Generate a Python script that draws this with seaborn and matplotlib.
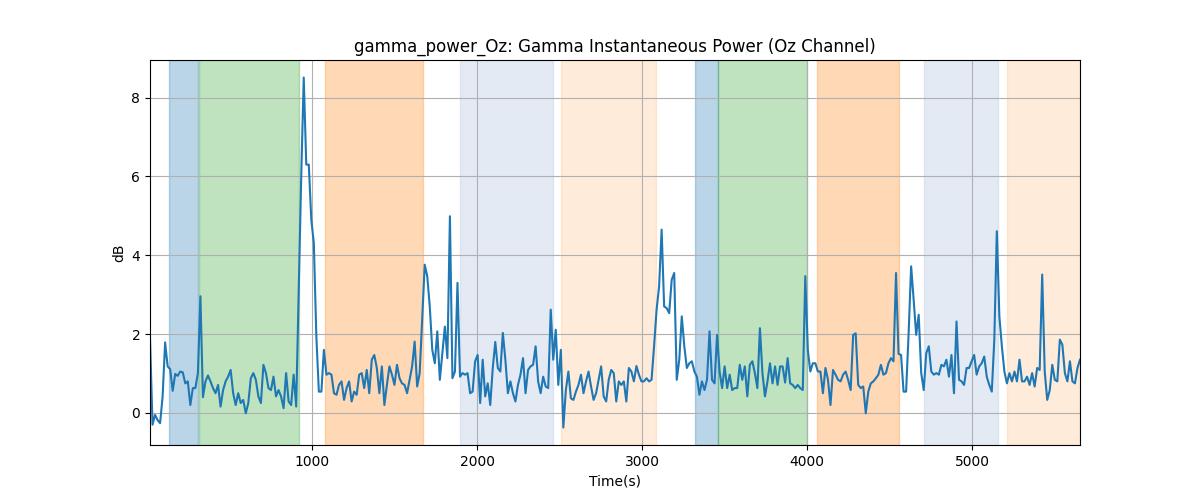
import numpy as np
import pandas as pd
import matplotlib
matplotlib.use("Agg")
import matplotlib.pyplot as plt
import seaborn as sns

t_start, t_end = 16, 5655

power_db = [
    # 16 .. ~716
    1.9, -0.3, -0.05, -0.18, -0.26, 0.41, 1.79, 1.18, 1.11, 0.56, 0.99, 0.94, 1.05, 1.03,
    0.75, 0.80, 0.2, 0.63, 0.63, 1.01, 2.96, 0.4, 0.8, 0.95, 0.8, 0.63, 0.5, 0.71, 0.16,
    0.58, 0.8, 0.92, 1.09, 0.5, 0.2, 0.5, 0.25, 0.33, -0.01, 0.25, 0.88, 1.01, 0.84, 0.42,
    0.25, 1.22,
    # zoom 6
    1.01, 0.63, 0.58, 0.92, 0.42, 0.58, 0.42, 0.12, 1.01, 0.29, 0.2, 0.97, 0.16, 3.07,
    6.0, 8.51, 6.3, 6.3, 4.9, 4.31, 1.94, 0.54, 0.54, 1.6, 0.97, 1.01, 0.97, 0.5, 0.46,
    0.71, 0.8, 0.33, 0.63, 0.8, 0.29, 0.54, 0.46, 0.97, 1.01, 0.63, 1.09, 0.5, 1.35, 1.47,
    1.14, 0.5,
    # zoom 7
    1.18, 0.2, 0.71, 1.18, 0.97, 0.71, 1.22, 0.88, 0.75, 0.71, 0.5, 0.84, 1.18, 1.81,
    0.67, 1.01, 2.36, 3.76, 3.47, 2.7, 1.6, 1.26, 2.07, 0.84, 1.52, 2.19, 1.39, 4.99, 0.88,
    1.05, 3.3, 0.92, 1.01, 0.97, 1.01, 0.5, 0.54, 1.31, 1.47, 0.25, 1.35, 0.42, 0.75, 0.2,
    1.14, 1.8,
    # zoom 8
    1.14, 1.05, 2.03, 1.35, 0.5, 0.8, 0.5, 0.29, 0.71, 0.97, 1.39, 0.5, 1.09, 1.18, 1.22,
    1.69, 0.8, 0.5, 0.92, 0.67, 0.63, 2.62, 1.35, 2.11, 0.71, 1.6, -0.37, 0.58, 1.05, 0.37,
    0.33, 0.54, 0.71, 0.97, 0.5, 0.8, 1.05, 0.67, 0.33, 0.5, 0.84, 1.18, 0.42, 0.29, 0.84,
    1.09,
    # zoom 9
    1.01, 0.29, 0.8, 0.71, 0.8, 0.29, 1.14, 1.05, 0.8, 1.19, 0.97, 0.8, 0.8, 0.88, 0.8,
    0.84, 1.69, 2.62, 3.21, 4.65, 2.7, 2.66, 2.53, 3.38, 3.55, 0.84, 1.35, 2.45, 1.69,
    1.14, 1.26, 1.31, 1.05, 0.92, 0.46, 0.8, 0.58, 0.84, 2.07, 0.84, 0.75, 1.98, 1.05,
    0.63, 1.18, 0.63,
    # zoom 10
    0.97, 0.58, 0.63, 0.63, 1.22, 0.84, 1.18, 0.42, 1.22, 1.31, 1.01, 0.63, 2.15, 1.01,
    0.42, 0.8, 1.26, 0.75, 1.18, 0.71, 1.18, 1.18, 0.77, 1.39, 0.75, 0.71, 0.63, 0.71,
    0.63, 0.58, 3.47, 1.6, 1.05, 1.26, 1.26, 1.05, 1.05, 0.5, 1.14, 0.84, 0.2, 1.09, 0.97,
    0.84, 0.8, 0.97,
    # zoom 11
    1.05, 0.84, 0.58, 1.98, 2.02, 0.71, 0.63, 0.67, -0.01, 0.54, 0.75, 0.8, 0.88, 0.97,
    1.22, 0.97, 1.01, 1.26, 1.39, 1.31, 3.55, 1.5, 1.47, 0.54, 0.54, 2.02, 3.72, 2.87,
    1.98, 2.49, 1.01, 0.58, 1.52, 1.69, 1.05, 0.97, 1.01, 0.97, 1.22, 1.18, 1.35, 0.92,
    1.47, 0.5, 2.32, 0.84,
    # zoom 12
    0.8, 0.71, 1.14, 1.14, 1.31, 1.47, 0.97, 1.18, 1.26, 1.43, 0.92, 0.71, 0.54, 1.86,
    4.61, 2.45, 1.69, 1.05, 0.75, 1.01, 0.8, 1.05, 0.8, 1.35, 0.8, 0.8, 0.92, 0.71, 1.01,
    0.67, 1.14, 1.09, 3.51, 1.05, 0.33, 0.58, 1.22, 0.84, 0.8, 1.86, 1.73, 1.01, 0.8,
    1.31, 0.8, 0.75, 1.14, 1.35,
]

# shaded intervals (start, end) in seconds and their style group
span_starts = [132, 314, 1079, 1898, 2511, 3319, 3460, 4059, 4709, 5212]
span_ends = [308, 921, 1672, 2461, 3086, 3460, 4002, 4555, 5156, 5655]
span_kinds = ["blue", "green", "orange", "lightblue", "lightorange",
              "blue", "green", "orange", "lightblue", "lightorange"]

span_styles = {
    "blue": ("#1f77b4", 0.3),
    "green": ("#2ca02c", 0.3),
    "orange": ("#ff7f0e", 0.3),
    "lightblue": ("#b0c4de", 0.35),
    "lightorange": ("#ffbe82", 0.3),
}

times = np.linspace(t_start, t_end, len(power_db))
df = pd.DataFrame({"Time(s)": times, "dB": power_db})

fig, ax = plt.subplots(figsize=(12, 5), dpi=100)
for s, e, k in zip(span_starts, span_ends, span_kinds):
    c, a = span_styles[k]
    ax.axvspan(s, e, color=c, alpha=a)

sns.lineplot(data=df, x="Time(s)", y="dB", ax=ax, color="#1f77b4", linewidth=1.5)
ax.set_xlim(t_start, t_end)
ax.grid(True)
ax.set_title("gamma_power_Oz: Gamma Instantaneous Power (Oz Channel)")
ax.set_xlabel("Time(s)")
ax.set_ylabel("dB")
fig.savefig("out.png", dpi=100)
